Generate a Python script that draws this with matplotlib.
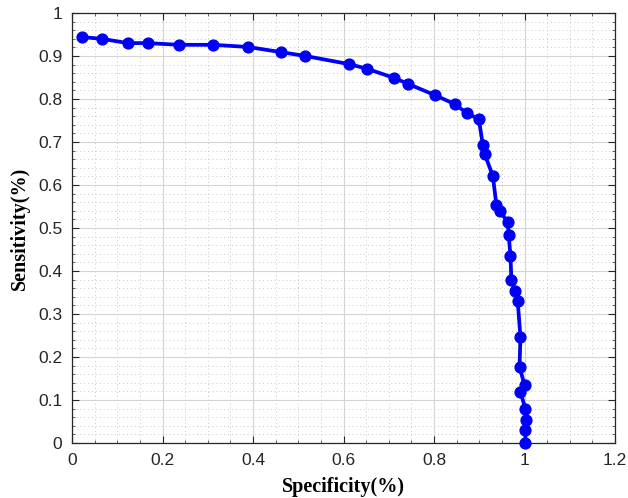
import matplotlib
matplotlib.use("Agg")
import matplotlib.pyplot as plt
from matplotlib.ticker import MultipleLocator

specificity = [0.022, 0.066, 0.123, 0.167, 0.237, 0.312, 0.389, 0.462, 0.516,
               0.613, 0.653, 0.712, 0.743, 0.802, 0.846, 0.873, 0.899, 0.908,
               0.912, 0.930, 0.938, 0.945, 0.963, 0.965, 0.969, 0.971, 0.980,
               0.985, 0.991, 0.989, 1.000, 0.991, 1.002, 1.004, 1.002, 1.002]
sensitivity = [0.944, 0.940, 0.930, 0.930, 0.926, 0.926, 0.921, 0.909, 0.900,
               0.881, 0.870, 0.849, 0.835, 0.809, 0.788, 0.767, 0.753, 0.693,
               0.672, 0.621, 0.553, 0.540, 0.514, 0.484, 0.435, 0.379, 0.353,
               0.330, 0.247, 0.177, 0.135, 0.119, 0.079, 0.053, 0.030, 0.0]

xticks = [0, 0.2, 0.4, 0.6, 0.8, 1, 1.2]
xticklabels = ["0", "0.2", "0.4", "0.6", "0.8", "1", "1.2"]
yticks = [0, 0.1, 0.2, 0.3, 0.4, 0.5, 0.6, 0.7, 0.8, 0.9, 1]
yticklabels = ["0", "0.1", "0.2", "0.3", "0.4", "0.5", "0.6", "0.7", "0.8", "0.9", "1"]

fig = plt.figure(figsize=(6.28, 4.98), dpi=100)
ax = fig.add_axes([72/628, 55/498, 543/628, 430/498])

ax.plot(specificity, sensitivity, color="#0000F5", linewidth=2.7,
        marker="o", markersize=7.8, clip_on=False, zorder=3)

ax.set_xlim(0, 1.2)
ax.set_ylim(0, 1)
ax.set_xticks(xticks)
ax.set_xticklabels(xticklabels)
ax.set_yticks(yticks)
ax.set_yticklabels(yticklabels)
ax.xaxis.set_minor_locator(MultipleLocator(0.05))
ax.yaxis.set_minor_locator(MultipleLocator(0.02))

ax.grid(which="major", color="#d4d4d4", linewidth=0.8, linestyle="-")
ax.grid(which="minor", color="#c8c8c8", linewidth=0.7, linestyle=(0, (1, 3)))
ax.set_axisbelow(True)

ax.tick_params(which="both", direction="in", top=True, right=True,
               colors="#262626", labelcolor="#262626")
ax.tick_params(which="major", length=5, width=0.8, labelsize=12.5)
ax.tick_params(which="minor", length=2.5, width=0.5)
ax.tick_params(axis="x", pad=7.5)
ax.tick_params(axis="y", pad=7)
for lab in ax.get_xticklabels() + ax.get_yticklabels():
    lab.set_fontfamily("Liberation Sans")
for s in ax.spines.values():
    s.set_color("#262626")
    s.set_linewidth(0.9)

ax.set_xlabel("Specificity(%)", fontfamily="Liberation Serif",
              fontweight="bold", fontsize=14.5, labelpad=6)
ax.set_ylabel("Sensitivity(%)", fontfamily="Liberation Serif",
              fontweight="bold", fontsize=14.5, labelpad=6)

fig.savefig("out.png", dpi=100)
